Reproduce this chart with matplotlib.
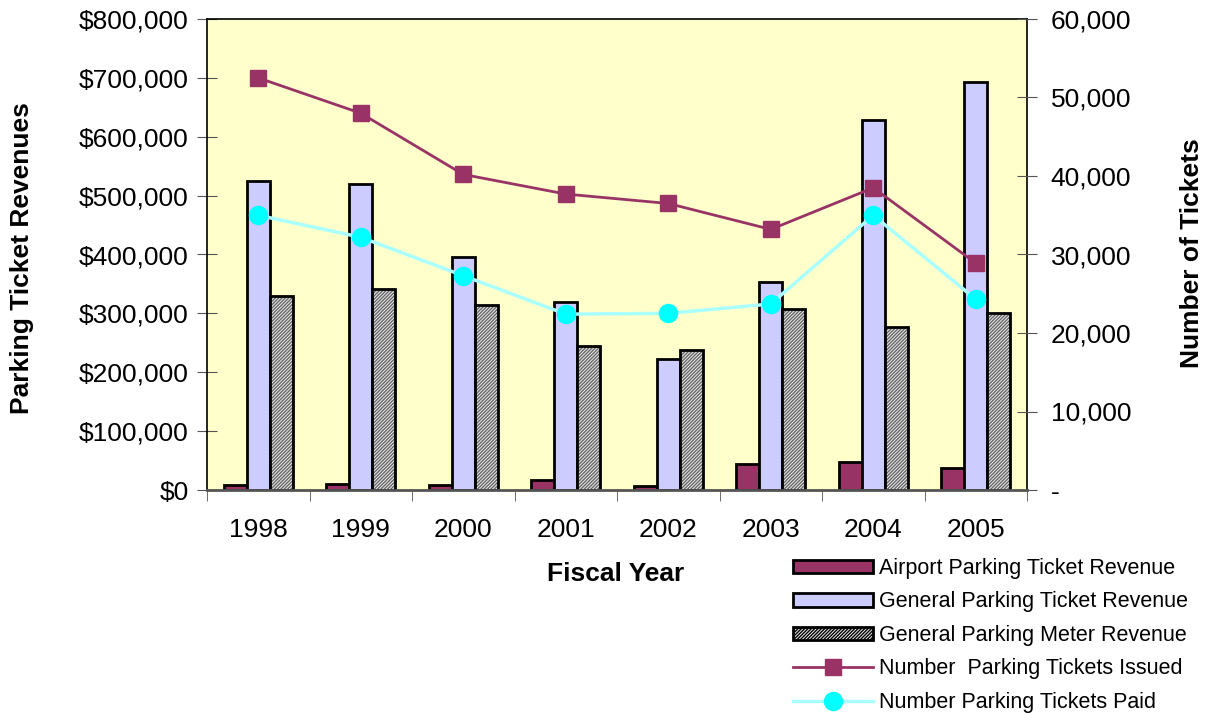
import matplotlib
matplotlib.use("Agg")
import matplotlib.pyplot as plt
import numpy as np
from matplotlib.ticker import FuncFormatter, FixedLocator
from matplotlib.patches import Patch

plt.rcParams['font.family'] = ['Liberation Sans', 'DejaVu Sans']
plt.rcParams['hatch.linewidth'] = 1.0

years = ["1998", "1999", "2000", "2001", "2002", "2003", "2004", "2005"]
airport_revenue = [8000, 10000, 9000, 17000, 6000, 44000, 47000, 38000]
general_ticket_revenue = [525000, 520000, 396000, 319000, 222000, 354000, 629000, 693000]
meter_revenue = [330000, 341000, 315000, 244000, 238000, 307000, 277000, 301000]
tickets_issued = [52500, 48000, 40200, 37700, 36500, 33200, 38500, 28900]
tickets_paid = [35000, 32200, 27300, 22400, 22500, 23700, 35000, 24300]

W, H = 1209, 715
fig = plt.figure(figsize=(W / 100, H / 100), dpi=100)
ax = fig.add_axes([207 / W, 1 - 490 / H, (1027 - 207) / W, (490 - 19) / H])
ax.set_facecolor('#FFFFCC')

x = np.arange(len(years))
bw = 0.225
ax.bar(x - bw, airport_revenue, bw, color='#993366', edgecolor='black', linewidth=2, zorder=2)
ax.bar(x, general_ticket_revenue, bw, color='#CCCCFF', edgecolor='black', linewidth=2, zorder=2)
ax.bar(x + bw, meter_revenue, bw, color='#EEEEEE', edgecolor='#666666', hatch='//////////', linewidth=0, zorder=2)
ax.bar(x + bw, meter_revenue, bw, color='none', edgecolor='black', linewidth=2, zorder=2.2)

ax.set_xlim(-0.5, len(years) - 0.5)
ax.set_ylim(0, 800000)
ax.yaxis.set_major_locator(FixedLocator(np.arange(0, 800001, 100000)))
ax.yaxis.set_major_formatter(FuncFormatter(lambda v, p: "${:,.0f}".format(v)))
ax.set_xticks(x)
ax.set_xticklabels(years)
ax.set_xticks(np.arange(-0.5, len(years), 1), minor=True)
ax.tick_params(axis='x', which='major', length=0, labelsize=19, pad=20)
ax.tick_params(axis='x', which='minor', length=8, direction='out', color='#555555')
ax.tick_params(axis='y', direction='inout', length=14, labelsize=19, color='#555555', pad=6)
for s in ax.spines.values():
    s.set_color('black')
    s.set_linewidth(1.2)
ax.spines['bottom'].set_color('#555555')
ax.spines['bottom'].set_linewidth(2)

ax2 = ax.twinx()
ax2.set_ylim(0, 60000)
l1, = ax2.plot(x, tickets_issued, color='#993366', lw=2, marker='s', ms=11, zorder=3)
l2, = ax2.plot(x, tickets_paid, color='#AAFFFF', lw=2.5, marker='o', ms=13, mfc='#00FFFF', mec='#00FFFF', zorder=3)
ax2.yaxis.set_major_locator(FixedLocator(np.arange(0, 60001, 10000)))
ax2.yaxis.set_major_formatter(FuncFormatter(lambda v, p: "-" if v == 0 else "{:,.0f}".format(v)))
ax2.tick_params(axis='y', direction='inout', length=14, labelsize=19, color='#555555', pad=10)
for s in ax2.spines.values():
    s.set_visible(False)

ax.set_xlabel('Fiscal Year', fontsize=19, fontweight='bold')
ax.set_ylabel('Parking Ticket Revenues', fontsize=19, fontweight='bold')
ax2.set_ylabel('Number of Tickets', fontsize=19, fontweight='bold')
ax.xaxis.set_label_coords((616 - 207) / 820, -(562 - 490) / 471)
ax.yaxis.set_label_coords(-(207 - 34) / 820, (490 - 258) / 471)
ax2.yaxis.set_label_coords(1 + (1180 - 1027) / 820, (490 - 253) / 471)

handles = [
    Patch(facecolor='#993366', edgecolor='black', linewidth=2),
    Patch(facecolor='#CCCCFF', edgecolor='black', linewidth=2),
    Patch(facecolor='#EEEEEE', edgecolor='black', hatch='//////////', linewidth=2),
    l1, l2,
]
labels = ['Airport Parking Ticket Revenue', 'General Parking Ticket Revenue',
          'General Parking Meter Revenue', 'Number  Parking Tickets Issued',
          'Number Parking Tickets Paid']
leg = fig.legend(handles, labels, loc='upper left', bbox_to_anchor=(793 / W, 1 - 558 / H),
                 frameon=False, fontsize=15.5, handlelength=3.7, handleheight=0.6,
                 labelspacing=0.58, handletextpad=0.3, borderaxespad=0, borderpad=0)

fig.savefig('out.png', dpi=100, facecolor='white')
